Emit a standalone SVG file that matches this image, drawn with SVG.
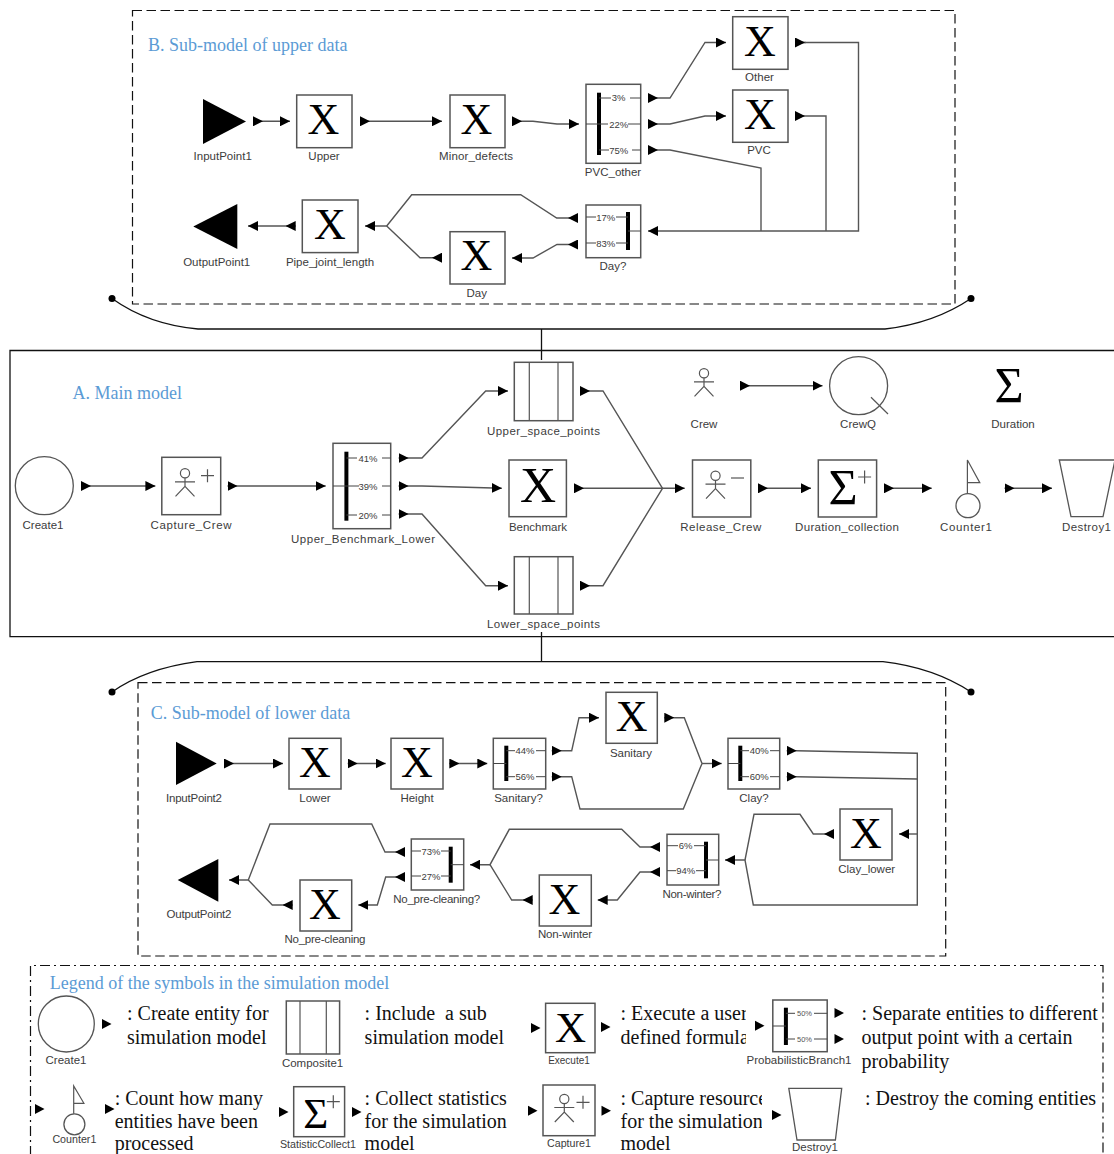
<svg xmlns="http://www.w3.org/2000/svg" width="1114" height="1154" viewBox="0 0 1114 1154">
<style>
text{font-family:"Liberation Sans",Arial,sans-serif}
.box{fill:#fff;stroke:#555;stroke-width:1.5}
.sh{fill:#fff;stroke:#555;stroke-width:1.3}
.lb{font-size:11.5px;fill:#3c3c3c;text-anchor:middle}
.lm{font-size:10.7px;fill:#3c3c3c;text-anchor:middle}
.ls{font-size:10px;fill:#3c3c3c;text-anchor:middle}
.pc{font-size:9.5px;fill:#3c3c3c;text-anchor:middle}
.pl{font-size:7.5px;fill:#555;text-anchor:middle}
.x{font-family:"Liberation Serif",serif;font-size:44px;fill:#000;text-anchor:middle}
.xb{font-size:50px}
.xl{font-size:43px}
.ttl{font-family:"Liberation Serif",serif;font-size:18px;fill:#5b9bd5}
.leg{font-family:"Liberation Serif",serif;font-size:20px;fill:#111}
.tk{fill:none;stroke:#444;stroke-width:1}
.bar{stroke:#000;stroke-width:4;fill:none}
.thin{fill:none;stroke:#555;stroke-width:1.2}
.sym{fill:none;stroke:#555;stroke-width:1.2}
.c{fill:none;stroke:#555;stroke-width:1.4;marker-start:url(#s);marker-end:url(#e)}
.cs{fill:none;stroke:#555;stroke-width:1.4;marker-start:url(#s)}
.ce{fill:none;stroke:#555;stroke-width:1.4;marker-end:url(#e)}
.fd{fill:none;stroke:#111;stroke-width:1.2;stroke-dasharray:9.5 4.5}
.fl{fill:none;stroke:#111;stroke-width:1.2;stroke-dasharray:10 4 2 4}
.fs{fill:none;stroke:#111;stroke-width:1.3}
</style>
<defs>
<marker id="s" viewBox="0 0 10 10" refX="0" refY="5" markerWidth="10" markerHeight="10" markerUnits="userSpaceOnUse" orient="auto"><path d="M0,0L10,5L0,10Z" fill="#000"/></marker>
<marker id="e" viewBox="0 0 10 10" refX="10" refY="5" markerWidth="10" markerHeight="10" markerUnits="userSpaceOnUse" orient="auto"><path d="M0,0L10,5L0,10Z" fill="#000"/></marker>
<path id="port" d="M0,-5L9.5,0L0,5Z" fill="#000"/>
<g id="person" class="sym"><circle cx="0" cy="0" r="4.6"/><path d="M0,4.6V13M-10,8.5H10M-9.5,23L0,13L9.5,23"/></g>
<path id="plus" d="M-6.5,0H6.5M0,-6.5V6.5" class="sym"/>
<clipPath id="clipE"><rect x="615" y="1000" width="131" height="54"/></clipPath>
<clipPath id="clipC"><rect x="615" y="1085" width="147" height="69"/></clipPath>
</defs>

<g id="frames">
<rect class="fd" x="132.500" y="10.500" width="822.500" height="293.500"/>
<path class="fs" d="M112,298.500C135,315 165,326 198,329H885C920,325 948,314 971,298.500"/>
<circle cx="112" cy="298.500" r="3.500" fill="#000"/><circle cx="971" cy="298.500" r="3.500" fill="#000"/>
<path class="fs" d="M541.500,329V360"/>
<path class="fs" d="M1116,350.500H10V636.700H1116"/>
<path class="fs" d="M541.500,632V662"/>
<path class="fs" d="M112,692C135,676 165,666 197,661.700H883C920,666 948,677 971,692"/>
<circle cx="112" cy="692" r="3.500" fill="#000"/><circle cx="971" cy="692" r="3.500" fill="#000"/>
<rect class="fd" x="138" y="682.700" width="807.700" height="273.300"/>
<path class="fl" d="M30.500,1156V965.500H1103V1156"/>
<text class="ttl" x="148" y="50.500">B. Sub-model of upper data</text>
<text class="ttl" x="72.500" y="399">A. Main model</text>
<text class="ttl" x="150.700" y="719">C. Sub-model of lower data</text>
<text class="ttl" x="49.800" y="988.500">Legend of the symbols in the simulation model</text>
</g>

<g id="connectors">
<path class="c" d="M253,121.300H290"/>
<path class="c" d="M360,121.300H442"/>
<path class="c" d="M512,121.300H533L557,124H579"/>
<path class="c" d="M648,98H670L705,42.500H726"/>
<path class="c" d="M648,124H670L705,116H726"/>
<path class="cs" d="M648,150H670L761,168V231"/>
<path class="cs" d="M795,116H826V231"/>
<path class="ce" d="M795,42.500H858.500V231H648"/>
<path class="cs" d="M795,42.500H806"/>
<path class="c" d="M578,218H556.700L520.700,194.700H411.700L386.700,226H365"/>
<path class="cs" d="M442,257.700H420L386.700,226"/>
<path class="c" d="M578,244.500H557L533,258H512"/>
<path class="c" d="M295.700,226H248"/>

<path class="c" d="M81,486H155.400"/>
<path class="c" d="M227.500,486H325.700"/>
<path class="c" d="M398.600,458H422L485.700,391H508"/>
<path class="c" d="M398.600,486H422L501.800,488.300"/>
<path class="c" d="M398.600,514H422L485.700,585.700H508"/>
<path class="cs" d="M580,391H603L662.500,488.300"/>
<path class="c" d="M574,488.300H684.700"/>
<path class="cs" d="M580,585.700H603L662.500,488.300"/>
<path class="c" d="M758,488.300H811"/>
<path class="c" d="M884,488.300H931.700"/>
<path class="c" d="M1004.500,488.300H1052"/>
<path class="c" d="M740,385.700H822.500"/>

<path class="c" d="M224,763.500H283"/>
<path class="c" d="M347.700,763.500H385.700"/>
<path class="c" d="M449.300,763.500H487.300"/>
<path class="c" d="M551.700,750.700H571.700L579,717.700H599"/>
<path class="cs" d="M664.300,717.700H684.300L702,763.500"/>
<path class="cs" d="M551.700,776.700H571.700L580,809H683.300L702,763.500"/>
<path class="ce" d="M702,763.500H721.700"/>
<path class="cs" d="M786.700,750.700H796.700L917.300,753.300V834"/>
<path class="cs" d="M786.700,776.700H796.700L917.300,779"/>
<path class="ce" d="M917.300,834H899"/>
<path class="ce" d="M917.300,834V905H753.300L745,860H725"/>
<path class="cs" d="M834,834H813.300L800,814.300H754L745,860"/>
<path class="c" d="M660,847H640L621.700,829.300H509.300L490,864.700H470"/>
<path class="c" d="M660,872H640L617.300,900H597.700"/>
<path class="cs" d="M532.700,900H511.700L490,864.700"/>
<path class="c" d="M405,852H385L371.700,824H270L248.300,880H229"/>
<path class="c" d="M405,877H385.700L377.300,905H358.300"/>
<path class="cs" d="M292.700,905H272.300L248.300,880"/>
</g>

<g id="InputPoint1"><path d="M203,99L246,121.500L203,144Z" fill="#000"/><text class="lb" x="222.700" y="160">InputPoint1</text></g>
<g id="Upper"><rect class="box" x="296.700" y="95" width="55.300" height="52.700"/><text class="x" x="323.500" y="134">X</text><text class="lb" x="324" y="160">Upper</text></g>
<g id="Minor_defects"><rect class="box" x="450" y="95" width="55" height="52.700"/><text class="x" x="476.500" y="134">X</text><text class="lb" x="476" y="160" textLength="74">Minor_defects</text></g>
<g id="PVC_other"><rect class="box" x="586" y="84.300" width="54.700" height="79"/><path class="bar" d="M599,92.700V155"/><path class="tk" d="M599,98H611M630,98H640.700M586,124H608M628,124H640.700M599,150H609M632,150H640.700"/><text class="pc" x="618.700" y="101.300">3%</text><text class="pc" x="618.700" y="127.500">22%</text><text class="pc" x="618.700" y="153.500">75%</text><text class="lb" x="613" y="176">PVC_other</text></g>
<g id="Other"><rect class="box" x="732.700" y="16.700" width="55.300" height="52.600"/><text class="x" x="760" y="55.500">X</text><text class="lb" x="759.500" y="81">Other</text></g>
<g id="PVC"><rect class="box" x="732.700" y="90" width="55.300" height="52.300"/><text class="x" x="760" y="128.500">X</text><text class="lb" x="759" y="154">PVC</text></g>
<g id="Day_q"><rect class="box" x="586" y="205" width="54.700" height="52.700"/><path class="bar" d="M628,212V250"/><path class="tk" d="M586,217H596M616,217H628M586,243H596M616,243H628M628,231H640.700"/><text class="pc" x="605.700" y="220.500">17%</text><text class="pc" x="605.700" y="246.500">83%</text><text class="lb" x="613" y="270">Day?</text></g>
<g id="Day"><rect class="box" x="450" y="231.700" width="55" height="52.300"/><text class="x" x="476.500" y="270">X</text><text class="lb" x="476.700" y="297">Day</text></g>
<g id="Pipe_joint_length"><rect class="box" x="302.300" y="200" width="55.700" height="52.600"/><text class="x" x="330" y="239">X</text><text class="lb" x="330" y="266">Pipe_joint_length</text></g>
<g id="OutputPoint1"><path d="M237.300,204V249L193.300,226.500Z" fill="#000"/><text class="lb" x="216.700" y="266">OutputPoint1</text></g>

<g id="Create1"><circle class="sh" cx="44.300" cy="485.700" r="29"/><text class="lb" x="43" y="529">Create1</text></g>
<g id="Capture_Crew"><rect class="box" x="161.800" y="457.300" width="58.900" height="57.400"/><use href="#person" x="185" y="473.300"/><use href="#plus" x="207.500" y="475.700"/><text class="lb" x="191" y="529" textLength="81">Capture_Crew</text></g>
<g id="Upper_Benchmark_Lower"><rect class="box" x="333" y="443.300" width="57.700" height="85.400"/><path class="bar" d="M346.400,451.700V520.700"/><path class="tk" d="M346.400,458H357M382,458H390.700M333,486H359M382,486H390.700M346.400,515H357M382,515H390.700"/><text class="pc" x="368" y="461.500">41%</text><text class="pc" x="368" y="489.500">39%</text><text class="pc" x="368" y="518.500">20%</text><text class="lb" x="363" y="543" textLength="144">Upper_Benchmark_Lower</text></g>
<g id="Upper_space_points"><rect class="box" x="514.300" y="362.300" width="58.700" height="58.400"/><path class="thin" d="M529.300,362.300V420.700M558,362.300V420.700"/><text class="lb" x="543.500" y="435" textLength="113">Upper_space_points</text></g>
<g id="Benchmark"><rect class="box" x="509" y="460" width="57.400" height="56.700"/><text class="x xb" x="538" y="501.700">X</text><text class="lb" x="538" y="531">Benchmark</text></g>
<g id="Lower_space_points"><rect class="box" x="514.300" y="556.700" width="58.700" height="57.300"/><path class="thin" d="M529.300,556.700V614M558,556.700V614"/><text class="lb" x="543.500" y="628" textLength="113">Lower_space_points</text></g>
<g id="Crew"><use href="#person" x="704" y="373.300"/><text class="lb" x="704" y="428">Crew</text></g>
<g id="CrewQ"><circle class="sh" cx="858.600" cy="385.700" r="29"/><path class="thin" d="M871,397.300L888,414"/><text class="lb" x="858" y="428">CrewQ</text></g>
<g id="Duration"><text class="x xb" x="1009" y="402">Σ</text><text class="lb" x="1013" y="428">Duration</text></g>
<g id="Release_Crew"><rect class="box" x="692.500" y="460" width="58.300" height="57"/><use href="#person" x="715.500" y="475.700"/><path class="sym" d="M731,478H744"/><text class="lb" x="720.700" y="531" textLength="81">Release_Crew</text></g>
<g id="Duration_collection"><rect class="box" x="818.300" y="460" width="58.300" height="57"/><text class="x xb" x="843" y="504">Σ</text><use href="#plus" x="864.600" y="477"/><text class="lb" x="847" y="531" textLength="104">Duration_collection</text></g>
<g id="Counter1"><circle class="sh" cx="968" cy="505.700" r="12"/><path class="sym" d="M967.400,494V460L979.800,482.700H967.400"/><text class="lb" x="966" y="531" textLength="52">Counter1</text></g>
<g id="Destroy1"><path class="sh" d="M1059.300,460H1115L1103,516.700H1071Z"/><text class="lb" x="1086.500" y="531" textLength="49">Destroy1</text></g>

<g id="InputPoint2"><path d="M176,741.700L216.700,763.500L176,785Z" fill="#000"/><text class="lb" x="194" y="801.700" textLength="56">InputPoint2</text></g>
<g id="Lower"><rect class="box" x="289" y="738.300" width="52" height="50.700"/><text class="x" x="315" y="777.300">X</text><text class="lb" x="315" y="802">Lower</text></g>
<g id="Height"><rect class="box" x="391" y="738.300" width="52" height="50.700"/><text class="x" x="417" y="777.300">X</text><text class="lb" x="417" y="802">Height</text></g>
<g id="Sanitary_q"><rect class="box" x="493.300" y="738.300" width="52.400" height="50.700"/><path class="bar" d="M506.300,745.700V781"/><path class="tk" d="M506.300,750.700H515M536,750.700H545.700M506.300,776.700H515M536,776.700H545.700M493.300,763.500H506.300"/><text class="pc" x="525" y="754">44%</text><text class="pc" x="525" y="780">56%</text><text class="lb" x="518.500" y="802">Sanitary?</text></g>
<g id="Sanitary"><rect class="box" x="606" y="692.300" width="51.300" height="51"/><text class="x" x="631.700" y="731">X</text><text class="lb" x="631" y="756.700">Sanitary</text></g>
<g id="Clay_q"><rect class="box" x="728" y="738.300" width="51.700" height="50.700"/><path class="bar" d="M740.300,745.700V781"/><path class="tk" d="M740.300,750.700H749M770,750.700H779.700M740.300,776.700H749M770,776.700H779.700M728,763.500H740.300"/><text class="pc" x="759.300" y="754">40%</text><text class="pc" x="759.300" y="780">60%</text><text class="lb" x="754" y="802">Clay?</text></g>
<g id="Clay_lower"><rect class="box" x="840" y="809" width="52" height="51"/><text class="x" x="866" y="848">X</text><text class="lb" x="866.700" y="873">Clay_lower</text></g>
<g id="Non-winter_q"><rect class="box" x="667" y="834.300" width="51.700" height="50.700"/><path class="bar" d="M706,841.700V878.300"/><path class="tk" d="M667,845.700H678M694,845.700H706M667,870.700H676M696,870.700H706M706,860H718.700"/><text class="pc" x="685.700" y="849">6%</text><text class="pc" x="685.700" y="874">94%</text><text class="lb" x="692" y="898" textLength="59">Non-winter?</text></g>
<g id="Non-winter"><rect class="box" x="539.300" y="875" width="52" height="51"/><text class="x" x="564.300" y="914">X</text><text class="lb" x="565" y="938" textLength="54">Non-winter</text></g>
<g id="No_pre-cleaning_q"><rect class="box" x="411.300" y="839" width="52.400" height="51"/><path class="bar" d="M450.700,846.700V882.700"/><path class="tk" d="M411.300,851H421M441,851H450.700M411.300,876H421M441,876H450.700M450.700,864.700H463.700"/><text class="pc" x="431" y="854.500">73%</text><text class="pc" x="431" y="879.500">27%</text><text class="lb" x="436.700" y="902.700" textLength="87">No_pre-cleaning?</text></g>
<g id="No_pre-cleaning"><rect class="box" x="300" y="880" width="51.700" height="51"/><text class="x" x="325" y="919">X</text><text class="lb" x="325" y="943" textLength="81">No_pre-cleaning</text></g>
<g id="OutputPoint2"><path d="M218.300,859V901.700L177.700,880Z" fill="#000"/><text class="lb" x="199" y="918" textLength="65">OutputPoint2</text></g>

<g id="legend">
<g id="leg-create"><circle class="sh" cx="66.300" cy="1024" r="28"/><text class="lb" x="66" y="1064">Create1</text><use href="#port" x="102" y="1024"/><text class="leg" x="127" y="1020">: Create entity for</text><text class="leg" x="127" y="1044">simulation model</text></g>
<g id="leg-composite"><rect class="box" x="286.300" y="1001" width="53.300" height="53"/><path class="thin" d="M300,1001V1054M326.300,1001V1054"/><text class="lb" x="312.600" y="1066.700">Composite1</text><text class="leg" x="364.600" y="1020" xml:space="preserve">: Include  a sub</text><text class="leg" x="364.600" y="1044">simulation model</text></g>
<g id="leg-execute"><use href="#port" x="531" y="1028"/><rect class="box" x="545.600" y="1003.300" width="49.400" height="49.400"/><text class="x xl" x="570.500" y="1041.700">X</text><text class="ls" x="569" y="1064">Execute1</text><use href="#port" x="601" y="1027"/><g clip-path="url(#clipE)"><text class="leg" x="620.500" y="1020">: Execute a user</text><text class="leg" x="620.500" y="1044">defined formula</text></g></g>
<g id="leg-branch"><use href="#port" x="755" y="1025.700"/><rect class="box" x="772.800" y="1000" width="54.400" height="51.700"/><path class="bar" d="M785.900,1007.700V1045"/><path class="tk" d="M785.900,1013.300H795M814,1013.300H827.200M785.900,1039H795M814,1039H827.200M772.800,1026H785.900"/><text class="pl" x="804.500" y="1016">50%</text><text class="pl" x="804.500" y="1041.700">50%</text><text class="lb" x="799" y="1064" textLength="105">ProbabilisticBranch1</text><use href="#port" x="834.500" y="1013"/><use href="#port" x="834.500" y="1039"/><text class="leg" x="861.500" y="1020">: Separate entities to different</text><text class="leg" x="861.500" y="1044">output point with a certain</text><text class="leg" x="861.500" y="1068">probability</text></g>
<g id="leg-counter"><use href="#port" x="35" y="1109"/><circle class="sh" cx="74.400" cy="1124.300" r="10.500"/><path class="sym" d="M73.700,1113.700V1086L83.900,1103.300H73.700"/><text class="lm" x="74.400" y="1143">Counter1</text><use href="#port" x="105" y="1109"/><text class="leg" x="114.700" y="1105">: Count how many</text><text class="leg" x="114.700" y="1128">entities have been</text><text class="leg" x="114.700" y="1149.500">processed</text></g>
<g id="leg-stat"><use href="#port" x="279" y="1112"/><rect class="box" x="293.700" y="1086.700" width="50.900" height="50"/><text class="x xl" x="315.800" y="1128">Σ</text><use href="#plus" x="333.300" y="1101.700"/><text class="lm" x="318" y="1148">StatisticCollect1</text><use href="#port" x="352" y="1112"/><text class="leg" x="364.600" y="1105">: Collect statistics</text><text class="leg" x="364.600" y="1128">for the simulation</text><text class="leg" x="364.600" y="1149.500">model</text></g>
<g id="leg-capture"><use href="#port" x="528" y="1110.700"/><rect class="box" x="543" y="1085" width="52" height="50.700"/><use href="#person" x="564.300" y="1099"/><use href="#plus" x="583" y="1102.300"/><text class="lm" x="569" y="1147">Capture1</text><use href="#port" x="601.500" y="1110.700"/><g clip-path="url(#clipC)"><text class="leg" x="620.500" y="1105">: Capture resource</text><text class="leg" x="620.500" y="1128">for the simulation</text><text class="leg" x="620.500" y="1149.500">model</text></g></g>
<g id="leg-destroy"><use href="#port" x="772" y="1115"/><path class="sh" d="M788.800,1088.300H841.700L835.400,1140H797Z"/><text class="lb" x="815" y="1151">Destroy1</text><text class="leg" x="865" y="1105">: Destroy the coming entities</text></g>
</g>
</svg>
